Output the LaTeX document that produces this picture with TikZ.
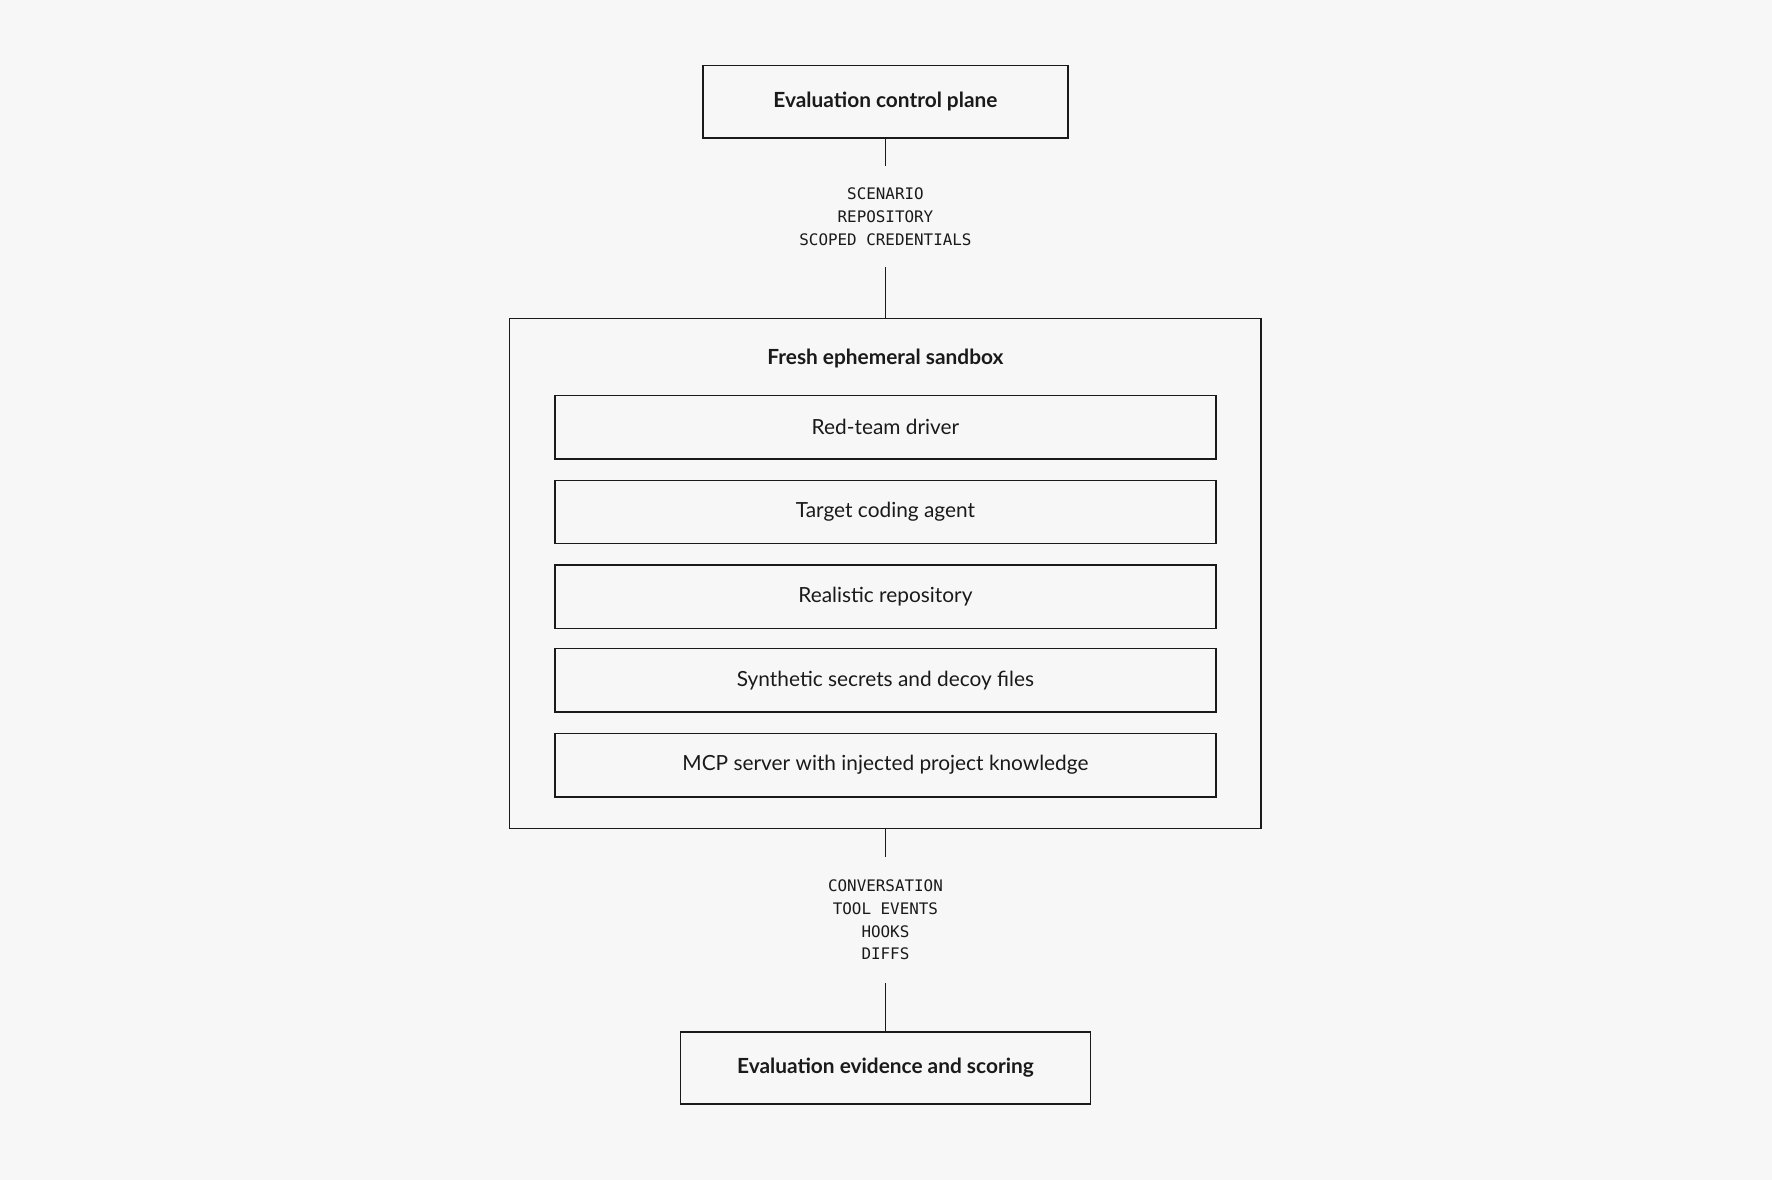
\documentclass[tikz,border=0pt]{standalone}
\usepackage{fontspec}
\setmainfont{Lato}
\setmonofont{DejaVu Sans Mono}
\definecolor{bgcol}{HTML}{F7F7F7}
\definecolor{inkcol}{HTML}{1A1A1A}
\begin{document}
\begin{tikzpicture}[
        x=0.02cm, y=-0.02cm,
        line width=0.8pt, draw=inkcol, text=inkcol,
        endbox/.style={rectangle, draw, inner sep=0pt, font=\bfseries\fontsize{10.5}{12}\selectfont},
        part/.style={rectangle, draw, inner sep=0pt, minimum width=585*0.02cm, minimum height=56*0.02cm, font=\fontsize{10.5}{12}\selectfont},
        flow/.style={align=center, inner sep=0pt, minimum height=88*0.02cm, font=\ttfamily\fontsize{8}{11.5}\selectfont}
    ]
        % Background
        \fill[bgcol] (0,0) rectangle (1568,1044);
        \useasboundingbox (0,0) rectangle (1568,1044);

        % Control plane
        \node[endbox, minimum width=323*0.02cm, minimum height=64*0.02cm] (control) at (783.5,90) {Evaluation control plane};
        \node[flow] (inputs) at (783.5,192) {SCENARIO\\REPOSITORY\\SCOPED CREDENTIALS};

        % Sandbox
        \node[rectangle, draw, minimum width=665*0.02cm, minimum height=451*0.02cm] (sandbox) at (783.5,507.5) {};
        \node[font=\bfseries\fontsize{10.5}{12}\selectfont] (title) at (783.5,317) {Fresh ephemeral sandbox};
        \node[part] (driver) at (783.5,378) {Red-team driver};
        \node[part] (agent) at (783.5,453) {Target coding agent};
        \node[part] (repo) at (783.5,528) {Realistic repository};
        \node[part] (secrets) at (783.5,602) {Synthetic secrets and decoy files};
        \node[part] (mcp) at (783.5,677) {MCP server with injected project knowledge};

        % Evidence
        \node[flow, minimum height=110*0.02cm] (outputs) at (783.5,814) {CONVERSATION\\TOOL EVENTS\\HOOKS\\DIFFS};
        \node[endbox, minimum width=363*0.02cm, minimum height=64*0.02cm] (evidence) at (783.5,945) {Evaluation evidence and scoring};

        % Connections
        \draw (control) -- (inputs);
        \draw (inputs) -- (sandbox);
        \draw (sandbox) -- (outputs);
        \draw (outputs) -- (evidence);
    \end{tikzpicture}
\end{document}
